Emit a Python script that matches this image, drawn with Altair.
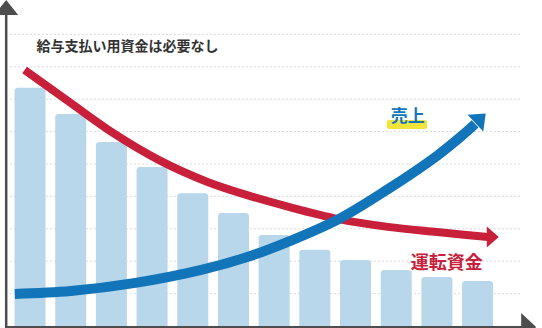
import altair as alt
import pandas as pd

# ---- data ----
months = list(range(1, 13))
bar_values = [7.35, 6.54, 5.68, 4.91, 4.10, 3.49, 2.81, 2.35, 2.04, 1.73, 1.51, 1.39]

# 運転資金 (working capital) curve
red_x = [0.867, 2.001, 3.039, 4.172, 5.379, 6.416, 7.381, 8.588, 9.794, 10.999, 11.723, 12.254]
red_y = [7.90, 6.88, 5.96, 5.12, 4.44, 4.01, 3.67, 3.30, 3.06, 2.90, 2.81, 2.75]

# 売上 (sales) curve
blue_x = [0.626, 2.001, 3.593, 5.210, 6.416, 7.381, 8.588, 9.794, 10.999, 11.602, 11.940]
blue_y = [0.99, 1.08, 1.33, 1.73, 2.16, 2.62, 3.30, 4.22, 5.25, 5.86, 6.24]

grid_levels = [1, 2, 3, 4, 5, 6, 7, 8, 9]

title_text = "給与支払い用資金は必要なし"
sales_label = "売上"
capital_label = "運転資金"

# ---- scales ----
W, H = 542, 328
X_DOMAIN = [0.3848, 0.3848 + W / 41.45]
Y_DOMAIN = [-2 / 32.4, 326 / 32.4]
xs = alt.Scale(domain=X_DOMAIN, nice=False, zero=False)
ys = alt.Scale(domain=Y_DOMAIN, nice=False, zero=False)

FONT = "Noto Sans CJK JP"
AXIS_C = "#4d4d4d"
BAR_C = "#b8d7ea"
RED = "#c8203a"
BLUE = "#1274b9"

bars_df = pd.DataFrame({"m": months, "v": bar_values})
red_df = pd.DataFrame({"x": red_x, "y": red_y})
blue_df = pd.DataFrame({"x": blue_x, "y": blue_y})
grid_df = pd.DataFrame({"y": grid_levels, "x": [0.505] * 9, "x2": [13.099] * 9})

grid = alt.Chart(grid_df).mark_rule(color="#d9d9d9", strokeWidth=1, strokeDash=[2, 2]).encode(
    x=alt.X("x:Q", scale=xs, axis=None), x2="x2:Q",
    y=alt.Y("y:Q", scale=ys, axis=None))

bars = alt.Chart(bars_df).mark_bar(color=BAR_C, size=31, cornerRadiusTopLeft=3,
                                   cornerRadiusTopRight=3).encode(
    x=alt.X("m:Q", scale=xs, axis=None),
    y=alt.Y("v:Q", scale=ys, axis=None), y2=alt.datum(0))

red_line = alt.Chart(red_df).mark_line(color=RED, strokeWidth=8, interpolate="monotone").encode(
    x=alt.X("x:Q", scale=xs, axis=None), y=alt.Y("y:Q", scale=ys, axis=None), order="x:Q")

blue_line = alt.Chart(blue_df).mark_line(color=BLUE, strokeWidth=10, interpolate="catmull-rom").encode(
    x=alt.X("x:Q", scale=xs, axis=None), y=alt.Y("y:Q", scale=ys, axis=None), order="x:Q")

def head(xv, yv, path, size, color, angle=0):
    return alt.Chart(pd.DataFrame({"x": [xv], "y": [yv]})).mark_point(
        shape=path, size=size, filled=True, color=color, opacity=1, strokeWidth=0, angle=angle
    ).encode(x=alt.X("x:Q", scale=xs, axis=None), y=alt.Y("y:Q", scale=ys, axis=None))

red_head = head(12.375, 2.75, "M0.571,0 L-0.571,-1 L-0.571,1 Z", 441, RED)
blue_head = head(12.074, 6.41, "M0.61,0 L-0.61,-1 L-0.61,1 Z", 529, BLUE, angle=317)

# axes frame
left_axis = alt.Chart(pd.DataFrame({"x": [0.414], "y": [9.7], "y2": [Y_DOMAIN[0]]})).mark_rule(
    color=AXIS_C, strokeWidth=2.5).encode(
    x=alt.X("x:Q", scale=xs, axis=None), y=alt.Y("y:Q", scale=ys, axis=None), y2="y2:Q")
bottom_axis = alt.Chart(pd.DataFrame({"x": [X_DOMAIN[0]], "x2": [13.17], "y": [-0.031]})).mark_rule(
    color=AXIS_C, strokeWidth=2).encode(
    x=alt.X("x:Q", scale=xs, axis=None), x2="x2:Q", y=alt.Y("y:Q", scale=ys, axis=None))
up_head = head(0.414, 9.83, "M0,-0.625 L1,0.625 L-1,0.625 Z", 576, AXIS_C)
right_head = head(13.256, -0.031, "M0.536,0 L-0.536,-1 L-0.536,1 Z", 784, AXIS_C)

# labels
highlight = alt.Chart(pd.DataFrame({"x": [9.77], "x2": [10.76], "y": [6.36], "y2": [6.08]})).mark_rect(
    color="#f2e43a", cornerRadius=2).encode(
    x=alt.X("x:Q", scale=xs, axis=None), x2="x2:Q", y=alt.Y("y:Q", scale=ys, axis=None), y2="y2:Q")

def label(xv, yv, txt, size, color, align):
    return alt.Chart(pd.DataFrame({"x": [xv], "y": [yv], "t": [txt]})).mark_text(
        font=FONT, fontSize=size, fontWeight="bold", color=color, align=align, baseline="middle"
    ).encode(x=alt.X("x:Q", scale=xs, axis=None), y=alt.Y("y:Q", scale=ys, axis=None), text="t:N")

title_lbl = label(1.157, 8.596, title_text, 14, "#333333", "left")
sales_lbl = label(10.284, 6.46, sales_label, 17, BLUE, "center")
cap_lbl = label(11.241, 1.914, capital_label, 18, RED, "center")

chart = alt.layer(
    grid, bars, red_line, red_head, blue_line, blue_head,
    left_axis, bottom_axis, up_head, right_head,
    highlight, title_lbl, sales_lbl, cap_lbl
).properties(
    width=W, height=H, padding=0, background="white",
    autosize=alt.AutoSizeParams(type="none")
).configure_view(stroke=None)

chart.save("out.html", embed_options={"renderer": "svg", "actions": False})
